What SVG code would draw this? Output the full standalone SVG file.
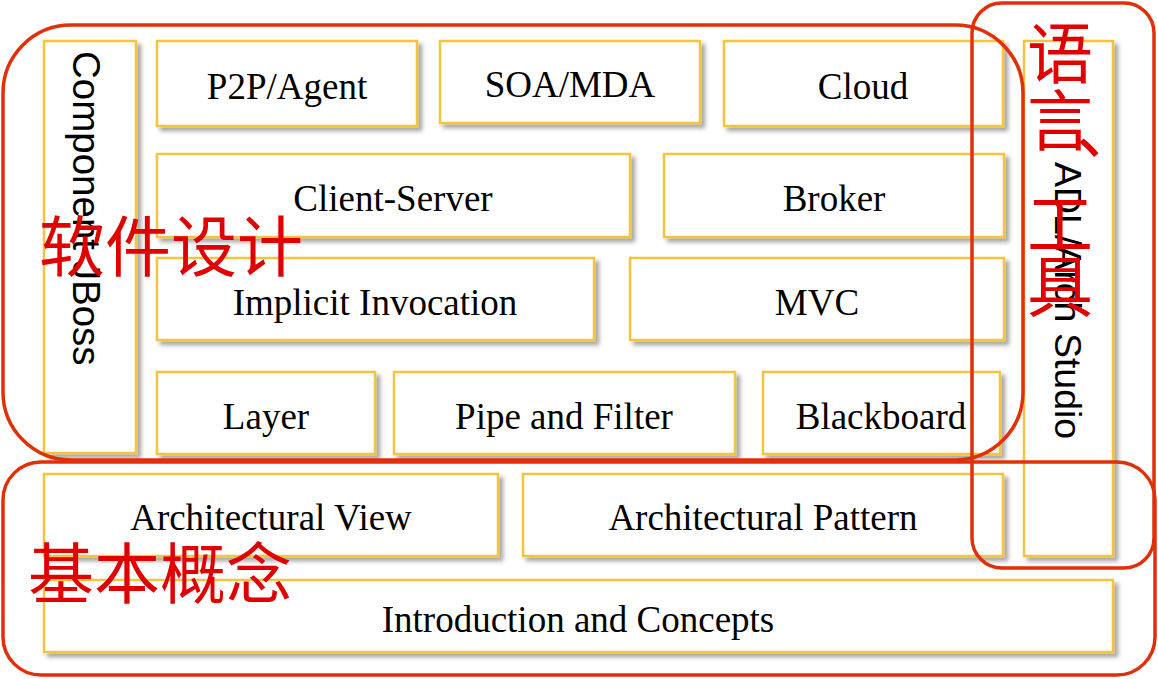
<svg xmlns="http://www.w3.org/2000/svg" width="1158" height="679" viewBox="0 0 1158 679">
<defs>
<filter id="sh" x="-10%" y="-10%" width="130%" height="130%">
<feDropShadow dx="4" dy="4" stdDeviation="2" flood-color="#000" flood-opacity="0.35"/>
</filter>
</defs>
<style>
.box{fill:#fff;stroke:#F4C43C;stroke-width:2.5;filter:url(#sh)}
.lbl{font-family:"Liberation Serif","Times New Roman",serif;font-size:37px;fill:#000;text-anchor:middle}
.vlbl{font-family:"Liberation Sans",Arial,sans-serif;font-size:38.5px;fill:#000}
.grp{fill:none;stroke:#E03008;stroke-width:3.5}
.cn{font-family:"Noto Sans CJK SC","Noto Sans",sans-serif;font-size:66px;fill:#E00000}
</style>
<rect width="1158" height="679" fill="#fff"/>
<g id="component-jboss"><rect class="box" x="44" y="41" width="92" height="412"/><text class="vlbl" transform="translate(73,51) rotate(90)">Component JBoss</text></g>
<g id="p2p"><rect class="box" x="157" y="41" width="260" height="85"/><text class="lbl" x="287" y="99">P2P/Agent</text></g>
<g id="soa"><rect class="box" x="440" y="41" width="260" height="82"/><text class="lbl" x="570" y="97">SOA/MDA</text></g>
<g id="cloud"><rect class="box" x="724" y="41" width="279" height="85"/><text class="lbl" x="863" y="99">Cloud</text></g>
<g id="client-server"><rect class="box" x="157" y="154" width="473" height="83"/><text class="lbl" x="393" y="211">Client-Server</text></g>
<g id="broker"><rect class="box" x="664" y="154" width="340" height="83"/><text class="lbl" x="834" y="211">Broker</text></g>
<g id="implicit"><rect class="box" x="157" y="258" width="437" height="82"/><text class="lbl" x="375" y="315">Implicit Invocation</text></g>
<g id="mvc"><rect class="box" x="630" y="258" width="374" height="82"/><text class="lbl" x="817" y="315">MVC</text></g>
<g id="layer"><rect class="box" x="157" y="372" width="218" height="82"/><text class="lbl" x="266" y="429">Layer</text></g>
<g id="pipe"><rect class="box" x="394" y="372" width="341" height="82"/><text class="lbl" x="564" y="429">Pipe and Filter</text></g>
<g id="blackboard"><rect class="box" x="763" y="372" width="237" height="82"/><text class="lbl" x="881" y="429">Blackboard</text></g>
<g id="arch-view"><rect class="box" x="44" y="474" width="454" height="82"/><text class="lbl" x="271" y="530">Architectural View</text></g>
<g id="arch-pattern"><rect class="box" x="523" y="474" width="480" height="82"/><text class="lbl" x="763" y="530">Architectural Pattern</text></g>
<g id="intro"><rect class="box" x="44" y="580" width="1069" height="72"/><text class="lbl" x="578" y="632">Introduction and Concepts</text></g>
<g id="adl"><rect class="box" x="1024" y="41" width="89" height="515"/><text class="vlbl" style="font-size:37.5px" transform="translate(1055,162) rotate(90)">ADL/Arch Studio</text></g>
<g id="groups">
<rect class="grp" x="3" y="25" width="1020" height="435" rx="68" ry="68"/>
<rect class="grp" x="972" y="3" width="182" height="565" rx="30" ry="30"/>
<rect class="grp" x="3" y="462" width="1152" height="213" rx="38" ry="38"/>
</g>
<g id="labels">
<text class="cn" x="39" y="271">软件设计</text>
<text class="cn" x="28" y="598">基本概念</text>
<text class="cn"><tspan x="1027" y="78">语</tspan><tspan x="1027" y="145">言</tspan><tspan x="1076" y="153">、</tspan><tspan x="1027" y="248">工</tspan><tspan x="1027" y="311">具</tspan></text>
</g>
</svg>
